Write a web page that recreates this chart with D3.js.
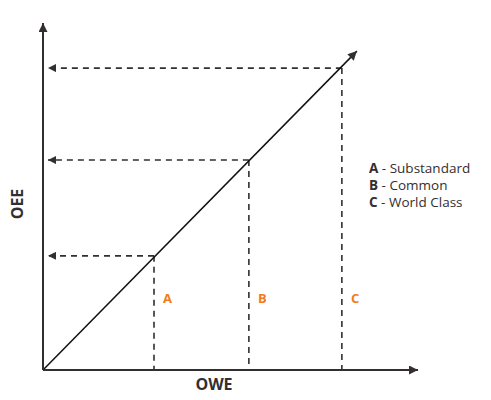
<!DOCTYPE html>
<html>
<head>
<meta charset="utf-8">
<script src="https://cdn.jsdelivr.net/npm/d3@7"></script>
<style>
  body { margin: 0; background: #fff; }
  svg { display: block; }
  text { font-family: "Open Sans", "DejaVu Sans", sans-serif; }
</style>
</head>
<body>
<svg id="svg" width="491" height="400"></svg>
<script>
// levels (in % of axis length)
var classes = ["A", "B", "C"];
var classNames = ["Substandard", "Common", "World Class"];
var oweValues = [29.6, 54.9, 79.7];
var oeeValues = [32.9, 60.5, 87.0];
var lineEnd = [83.7, 91.9];   // tip of the diagonal arrow

var ink = "#332e30";
var orange = "#f07c1a";

var svg = d3.select("#svg");

var x = d3.scaleLinear().domain([0, 100]).range([43, 418]);
var y = d3.scaleLinear().domain([0, 100]).range([370, 23]);

// arrow heads
var defs = svg.append("defs");
function marker(id, w, h) {
    defs.append("marker")
        .attr("id", id)
        .attr("viewBox", "0 0 10 10")
        .attr("refX", 10).attr("refY", 5)
        .attr("markerUnits", "userSpaceOnUse")
        .attr("markerWidth", w).attr("markerHeight", h)
        .attr("orient", "auto")
        .append("path")
        .attr("d", "M0,0L10,5L0,10Z")
        .attr("fill", ink);
}
marker("axisHead", 12, 9);
marker("dashHead", 9, 8);

// dashed guides
var points = classes.map(function(c, i) {
    return {cls: c, owe: oweValues[i], oee: oeeValues[i]};
});

var guides = svg.append("g");
guides.selectAll("line.h").data(points).enter()
    .append("line")
    .attr("class", "h")
    .attr("x1", function(d) { return x(d.owe); })
    .attr("y1", function(d) { return y(d.oee); })
    .attr("x2", x(0) + 5)
    .attr("y2", function(d) { return y(d.oee); })
    .attr("stroke", ink)
    .attr("stroke-width", 1.6)
    .attr("stroke-dasharray", "6,5")
    .attr("marker-end", "url(#dashHead)");

guides.selectAll("line.v").data(points).enter()
    .append("line")
    .attr("class", "v")
    .attr("x1", function(d) { return x(d.owe); })
    .attr("y1", function(d) { return y(d.oee); })
    .attr("x2", function(d) { return x(d.owe); })
    .attr("y2", y(0))
    .attr("stroke", ink)
    .attr("stroke-width", 1.6)
    .attr("stroke-dasharray", "6,5");

// diagonal
svg.append("line")
    .attr("x1", x(0)).attr("y1", y(0))
    .attr("x2", x(lineEnd[0])).attr("y2", y(lineEnd[1]))
    .attr("stroke", "#111")
    .attr("stroke-width", 1.5)
    .attr("marker-end", "url(#axisHead)");

// axes
svg.append("line")
    .attr("x1", x(0)).attr("y1", y(0))
    .attr("x2", x(100)).attr("y2", y(0))
    .attr("stroke", ink).attr("stroke-width", 2)
    .attr("marker-end", "url(#axisHead)");
svg.append("line")
    .attr("x1", x(0)).attr("y1", y(0))
    .attr("x2", x(0)).attr("y2", y(100))
    .attr("stroke", ink).attr("stroke-width", 2)
    .attr("marker-end", "url(#axisHead)");

// axis titles
svg.append("text")
    .attr("x", 214).attr("y", 390)
    .attr("text-anchor", "middle")
    .attr("font-size", 16).attr("font-weight", "bold")
    .attr("fill", ink)
    .text("OWE");
svg.append("text")
    .attr("transform", "translate(23,204) rotate(-90)")
    .attr("text-anchor", "middle")
    .attr("font-size", 16).attr("font-weight", "bold")
    .attr("fill", ink)
    .text("OEE");

// orange class labels
svg.append("g").selectAll("text").data(points).enter()
    .append("text")
    .attr("x", function(d) { return x(d.owe) + 9; })
    .attr("y", 303)
    .attr("font-size", 13).attr("font-weight", "bold")
    .attr("fill", orange)
    .text(function(d) { return d.cls; });

// legend
var legend = svg.append("g").selectAll("text").data(classes).enter()
    .append("text")
    .attr("x", 369)
    .attr("y", function(d, i) { return 173 + i * 17; })
    .attr("font-size", 13.5)
    .attr("fill", ink);
legend.append("tspan").attr("font-weight", "bold").text(function(d) { return d; });
legend.append("tspan").text(function(d, i) { return " - " + classNames[i]; });
</script>
</body>
</html>
